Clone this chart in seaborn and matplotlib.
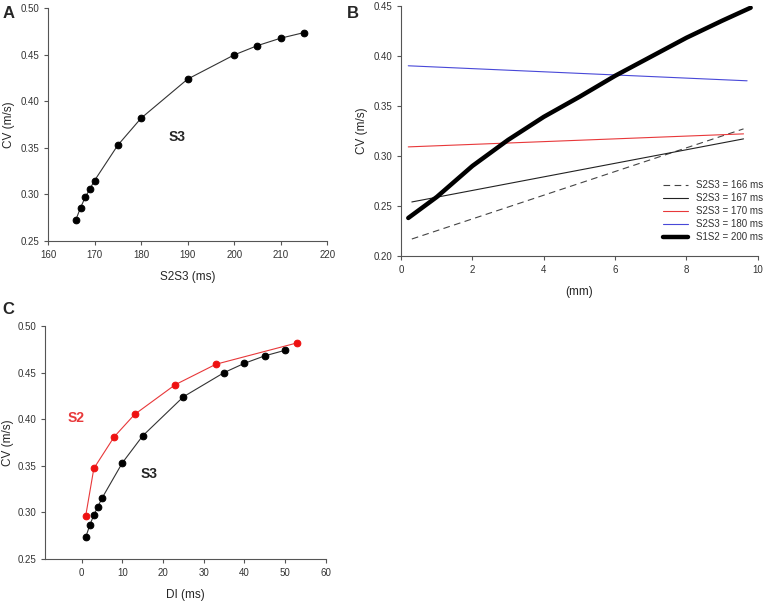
import matplotlib
matplotlib.use("Agg")
import matplotlib.pyplot as plt
import seaborn as sns

# ----------------- data -----------------
# panel A: CV vs S2S3 interval
s2s3 = [166, 167, 168, 169, 170, 175, 180, 190, 200, 205, 210, 215]
cv_s3 = [0.273, 0.286, 0.297, 0.306, 0.315, 0.353, 0.382, 0.424, 0.450, 0.460, 0.468, 0.474]

# panel B: CV along the tissue (mm)
b_x_166 = [0.3, 9.6]
b_cv_166 = [0.217, 0.327]
b_x_167 = [0.3, 9.6]
b_cv_167 = [0.254, 0.317]
b_x_170 = [0.2, 9.6]
b_cv_170 = [0.309, 0.322]
b_x_180 = [0.2, 9.7]
b_cv_180 = [0.390, 0.375]
b_x_s1s2 = [0.2, 1, 2, 3, 4, 5, 6, 7, 8, 9, 9.8]
b_cv_s1s2 = [0.238, 0.259, 0.290, 0.316, 0.339, 0.359, 0.380, 0.399, 0.418, 0.435, 0.448]

# panel C: CV vs DI
di_s3 = [1, 2, 3, 4, 5, 10, 15, 25, 35, 40, 45, 50]
di_s2 = [1, 3, 8, 13, 23, 33, 53]
cv_s2 = [0.296, 0.347, 0.381, 0.405, 0.437, 0.459, 0.482]

# ----------------- style -----------------
sns.set_style("ticks")
plt.rcParams['font.family'] = ['Liberation Sans', 'DejaVu Sans']
plt.rcParams['axes.edgecolor'] = '#555555'
plt.rcParams['xtick.color'] = '#555555'
plt.rcParams['ytick.color'] = '#555555'
plt.rcParams['xtick.labelcolor'] = '#333333'
plt.rcParams['ytick.labelcolor'] = '#333333'

fig = plt.figure(figsize=(7.67, 6.01), dpi=100)
ax_a = fig.add_axes([0.0626, 0.599, 0.364, 0.387])
ax_b = fig.add_axes([0.523, 0.574, 0.465, 0.4165])
ax_c = fig.add_axes([0.0587, 0.0704, 0.366, 0.387])

tick_fs = 7
lab_fs = 8.5
msize = 4.8


def style_axis(ax):
    sns.despine(ax=ax)
    ax.tick_params(labelsize=tick_fs, length=3, width=0.8)
    for s in ax.spines.values():
        s.set_linewidth(0.8)


# figure A
sns.lineplot(x=s2s3, y=cv_s3, ax=ax_a, color='#333333', linewidth=0.8,
             marker='o', markersize=msize, markerfacecolor='black',
             markeredgecolor='black', sort=False)
ax_a.set_xlim(160, 220)
ax_a.set_ylim(0.25, 0.50)
ax_a.set_xticks(range(160, 221, 10))
ax_a.set_yticks([0.25, 0.30, 0.35, 0.40, 0.45, 0.50])
ax_a.yaxis.set_major_formatter(matplotlib.ticker.FormatStrFormatter('%.2f'))
ax_a.set_xlabel('S2S3 (ms)', fontsize=lab_fs, labelpad=8)
ax_a.set_ylabel('CV (m/s)', fontsize=lab_fs, labelpad=4)
ax_a.text(187.7, 0.362, 'S3', fontsize=10, fontweight='bold', ha='center', va='center')
style_axis(ax_a)

# figure B
sns.lineplot(x=b_x_166, y=b_cv_166, ax=ax_b, color='#444444', linewidth=0.8,
             label='S2S3 = 166 ms').lines[-1].set_dashes([6, 4])
sns.lineplot(x=b_x_167, y=b_cv_167, ax=ax_b, color='#222222', linewidth=0.8,
             label='S2S3 = 167 ms')
sns.lineplot(x=b_x_170, y=b_cv_170, ax=ax_b, color='#e8383a', linewidth=0.8,
             label='S2S3 = 170 ms')
sns.lineplot(x=b_x_180, y=b_cv_180, ax=ax_b, color='#4848d8', linewidth=0.8,
             label='S2S3 = 180 ms')
sns.lineplot(x=b_x_s1s2, y=b_cv_s1s2, ax=ax_b, color='black', linewidth=3.2,
             label='S1S2 = 200 ms')
ax_b.set_xlim(0, 10)
ax_b.set_ylim(0.20, 0.45)
ax_b.set_xticks(range(0, 11, 2))
ax_b.set_yticks([0.20, 0.25, 0.30, 0.35, 0.40, 0.45])
ax_b.yaxis.set_major_formatter(matplotlib.ticker.FormatStrFormatter('%.2f'))
ax_b.set_xlabel('(mm)', fontsize=lab_fs, labelpad=8)
ax_b.set_ylabel('CV (m/s)', fontsize=lab_fs, labelpad=4)
ax_b.legend(loc='lower right', frameon=False, fontsize=7, handlelength=2.6,
            labelspacing=0.3, borderaxespad=0, bbox_to_anchor=(1.025, 0.04),
            labelcolor='#333333')
style_axis(ax_b)

# figure C
sns.lineplot(x=di_s3, y=cv_s3, ax=ax_c, color='#333333', linewidth=0.8,
             marker='o', markersize=msize, markerfacecolor='black',
             markeredgecolor='black', sort=False)
sns.lineplot(x=di_s2, y=cv_s2, ax=ax_c, color='#e8383a', linewidth=0.8,
             marker='o', markersize=msize, markerfacecolor='#ee1111',
             markeredgecolor='#ee1111', sort=False)
ax_c.set_xlim(-9, 60)
ax_c.set_ylim(0.25, 0.50)
ax_c.set_xticks(range(0, 61, 10))
ax_c.set_yticks([0.25, 0.30, 0.35, 0.40, 0.45, 0.50])
ax_c.yaxis.set_major_formatter(matplotlib.ticker.FormatStrFormatter('%.2f'))
ax_c.set_xlabel('DI (ms)', fontsize=lab_fs, labelpad=8)
ax_c.set_ylabel('CV (m/s)', fontsize=lab_fs, labelpad=2)
ax_c.text(-1.5, 0.401, 'S2', fontsize=10, fontweight='bold', color='#e8383a',
          ha='center', va='center')
ax_c.text(16.5, 0.341, 'S3', fontsize=10, fontweight='bold', ha='center', va='center')
style_axis(ax_c)

# panel letters
fig.text(0.003, 0.978, 'A', fontsize=12, fontweight='bold', va='center')
fig.text(0.452, 0.978, 'B', fontsize=12, fontweight='bold', va='center')
fig.text(0.003, 0.485, 'C', fontsize=12, fontweight='bold', va='center')

fig.savefig('out.png', dpi=100)
